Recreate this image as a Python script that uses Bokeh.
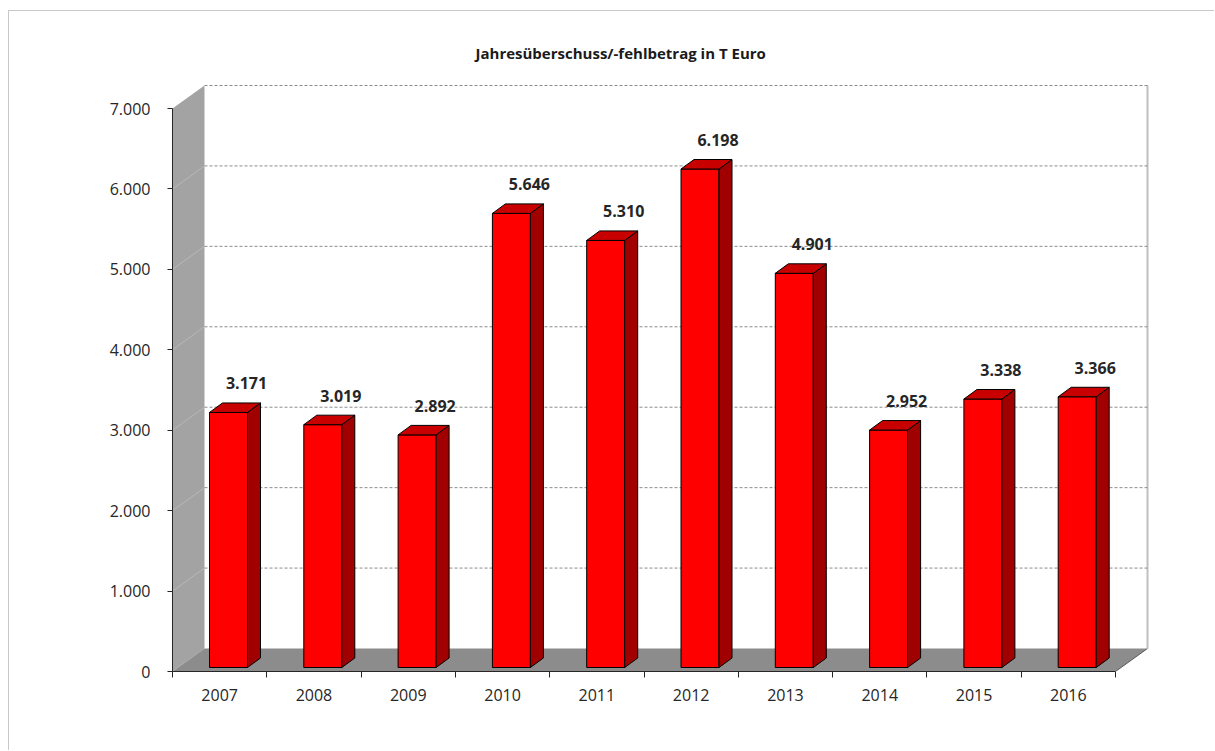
import numpy as np
from bokeh.plotting import figure
from bokeh.models import Range1d, FixedTicker, Title
from bokeh.embed import file_html
from bokeh.resources import INLINE
from bokeh.core.properties import value

# ---------------- data ----------------
years = ["2007", "2008", "2009", "2010", "2011", "2012", "2013", "2014", "2015", "2016"]
values = [3171, 3019, 2892, 5646, 5310, 6198, 4901, 2952, 3338, 3366]
y_ticks = [0, 1000, 2000, 3000, 4000, 5000, 6000, 7000]
y_tick_labels = ["0", "1.000", "2.000", "3.000", "4.000", "5.000", "6.000", "7.000"]
title_text = "Jahresüberschuss/-fehlbetrag in T Euro"


def de(v):
    return f"{v:,}".replace(",", ".")


# ---------------- layout ----------------
W, H = 1206, 740
ML, MR, MT, MB = 163, 55, 64, 80
frame_w = W - ML - MR
frame_h = H - MT - MB
n = len(values)
PXX = 943.0 / n              # px per category
PXY = 563.0 / y_ticks[-1]    # px per value unit
x0 = -0.5
x1 = x0 + frame_w / PXX
y1 = frame_h / PXY

DX = 32 / PXX   # depth of walls
DY = 23 / PXY

FONT = "Open Sans"
TXT = "#262626"

p = figure(width=W, height=H, x_range=Range1d(x0, x1), y_range=Range1d(0, y1),
           output_backend="svg", toolbar_location=None,
           min_border_left=ML, min_border_right=MR, min_border_top=MT, min_border_bottom=MB)
p.margin = (10, 0, 0, 8)
p.styles = {"border-left": "1px solid #c8c8c8", "border-top": "1px solid #c8c8c8",
            "border-right": "none", "border-bottom": "none", "outline": "none"}
p.outline_line_color = None
p.grid.visible = False
p.background_fill_color = "white"
p.border_fill_color = "white"

title = Title(text=title_text, align="left", offset=303, standoff=26,
              text_font=FONT, text_font_size="15px", text_font_style="bold", text_color="#1a1a1a")
p.add_layout(title, "above")

xa, xb = x0, x0 + n          # front floor extent
ymax = y_ticks[-1]

# side wall
p.patch([xa, xa, xa + DX, xa + DX], [0, ymax, ymax + DY, DY], fill_color="#a3a3a3", line_color=None)
# faint grid on side wall
gy = y_ticks[1:-1]
p.segment(x0=[xa] * len(gy), y0=gy, x1=[xa + DX] * len(gy), y1=[g + DY for g in gy],
          line_color="#b8b8b8", line_width=1)
# floor
p.patch([xa, xb, xb + DX, xa + DX], [0, 0, DY, DY], fill_color="#8c8c8c", line_color=None)
p.line([xb, xb + DX], [0, DY], line_color="#595959", line_width=1)
# back wall right edge
p.line([xb + DX, xb + DX], [DY, ymax + DY], line_color="#bfbfbf", line_width=2)
# back wall gridlines
gy2 = y_ticks[1:]
p.segment(x0=[xa + DX] * len(gy2), y0=[g + DY for g in gy2], x1=[xb + DX] * len(gy2),
          y1=[g + DY for g in gy2], line_color="#8c8c8c", line_width=1, line_dash="3 2")

# bars
idx = np.arange(n)
vals = np.array(values, dtype=float)
left = idx - 0.5 + 37 / PXX
right = idx - 0.5 + 75 / PXX
base = 4 / PXY
top = base + vals
bdx = 13 / PXX
bdy = 9.5 / PXY

p.quad(left=left, right=right, bottom=base, top=top, fill_color="#ff0000", line_color="black", line_width=1)
side_xs = [[r, r + bdx, r + bdx, r] for r in right]
side_ys = [[base, base + bdy, t + bdy, t] for t in top]
p.patches(side_xs, side_ys, fill_color="#a00000", line_color="black", line_width=1)
top_xs = [[l, r, r + bdx, l + bdx] for l, r in zip(left, right)]
top_ys = [[t, t, t + bdy, t + bdy] for t in top]
p.patches(top_xs, top_ys, fill_color="#c80000", line_color="black", line_width=1)

# data labels
p.text(x=(left + right) / 2 + 18 / PXX, y=top + 29 / PXY, text=[de(v) for v in values],
       text_align="center", text_baseline="middle", text_font=value(FONT),
       text_font_size="16px", text_font_style="bold", text_color=TXT)

# axes
xaxis = p.xaxis[0]
xaxis.ticker = FixedTicker(ticks=[int(i) for i in idx], minor_ticks=[float(i) - 0.5 for i in range(n + 1)])
xaxis.major_label_overrides = {int(i): years[i] for i in range(n)}
xaxis.major_tick_line_color = None
xaxis.major_tick_out = 0
xaxis.major_tick_in = 0
xaxis.minor_tick_out = 6
xaxis.minor_tick_in = 0
xaxis.minor_tick_line_color = TXT
xaxis.axis_line_color = TXT
xaxis.bounds = (xa, xb)
xaxis.major_label_standoff = 11
xaxis.major_label_text_font = FONT
xaxis.major_label_text_font_size = "16px"
xaxis.major_label_text_color = TXT

yaxis = p.yaxis[0]
yaxis.ticker = FixedTicker(ticks=y_ticks)
yaxis.major_label_overrides = {t: l for t, l in zip(y_ticks, y_tick_labels)}
yaxis.bounds = (0, ymax)
yaxis.major_tick_out = 5
yaxis.major_tick_in = 0
yaxis.minor_tick_line_color = None
yaxis.axis_line_color = TXT
yaxis.major_tick_line_color = TXT
yaxis.major_label_standoff = 17
yaxis.major_label_text_font = FONT
yaxis.major_label_text_font_size = "16px"
yaxis.major_label_text_color = TXT

open("out.html", "w").write(file_html(p, INLINE))
